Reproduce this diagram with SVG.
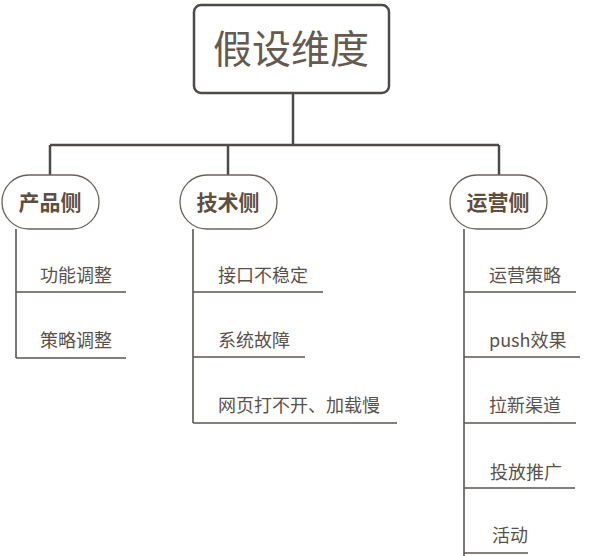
<svg xmlns="http://www.w3.org/2000/svg" width="592" height="556" viewBox="0 0 592 556">
<style>
.ln{stroke:#4d4a47;stroke-width:2.5;fill:none}
.cl{stroke:#5a5652;stroke-width:1.6;fill:none}
.pill{fill:#fff;stroke:#6a635c;stroke-width:1.3}
.pt{font-family:"Noto Sans CJK SC","Noto Sans",sans-serif;font-size:21px;font-weight:bold;fill:#5e4f40;text-anchor:middle}
.it{font-family:"Noto Sans CJK SC","Noto Sans",sans-serif;font-size:18px;fill:#5a524a}
</style>
<rect width="592" height="556" fill="#fff"/>
<g id="connectors">
<path class="ln" d="M293 93V145M50 145H499M50 145V175M228 145V175M499 145V175"/>
<path class="cl" d="M16 229V358M16 292H126M16 358H126"/>
<path class="cl" d="M193 229V423M193 292H323M193 357H305M193 423H397"/>
<path class="cl" d="M464 229V556M464 292H576M464 357H580M464 423H576M464 488H575M464 553H528"/>
</g>
<g id="root">
<rect x="194" y="5" width="195" height="88" rx="7" fill="#fff" stroke="#4d4a47" stroke-width="2.5"/>
<text x="291" y="63" font-family="Noto Sans CJK SC,sans-serif" font-size="39" fill="#655a4f" text-anchor="middle">假设维度</text>
</g>
<g id="product"><rect class="pill" x="2" y="175" width="97" height="54" rx="27"/><text class="pt" x="50" y="210">产品侧</text></g>
<g id="tech"><rect class="pill" x="180" y="175" width="97" height="54" rx="27"/><text class="pt" x="228" y="210">技术侧</text></g>
<g id="ops"><rect class="pill" x="450" y="175" width="97" height="54" rx="27"/><text class="pt" x="498" y="210">运营侧</text></g>
<g id="p1"><text class="it" x="40" y="282">功能调整</text></g>
<g id="p2"><text class="it" x="40" y="347">策略调整</text></g>
<g id="t1"><text class="it" x="218" y="282">接口不稳定</text></g>
<g id="t2"><text class="it" x="218" y="347">系统故障</text></g>
<g id="t3"><text class="it" x="218" y="412">网页打不开、加载慢</text></g>
<g id="o1"><text class="it" x="489" y="282">运营策略</text></g>
<g id="o2"><text class="it" x="489" y="347">push效果</text></g>
<g id="o3"><text class="it" x="489" y="412">拉新渠道</text></g>
<g id="o4"><text class="it" x="490" y="479">投放推广</text></g>
<g id="o5"><text class="it" x="492" y="542">活动</text></g>
</svg>
